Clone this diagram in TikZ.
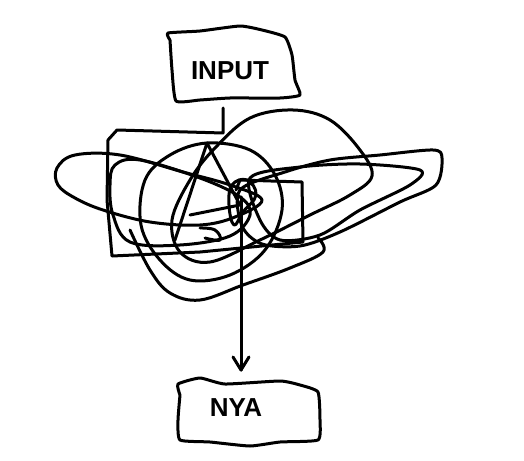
\documentclass[tikz,border=0pt]{standalone}
\usepackage{fontspec}
\setmainfont{Liberation Sans}
\usetikzlibrary{arrows.meta}
\tikzset{
  scrib/.style={line width=1.5pt, line join=round, line cap=round, black},
  label/.style={font=\fontsize{13}{13}\selectfont\bfseries, inner sep=0pt},
}
\begin{document}
\begin{tikzpicture}[x=0.5pt,y=-0.5pt]
\useasboundingbox[fill=white] (0,0) rectangle (524,460);
% INPUT box
\draw[scrib] plot[smooth, tension=0.3] coordinates {(170,40) (168,33) (200,31) (240,26) (262,30) (285,37) (292,55) (295,80) (300,95) (280,98) (230,98) (200,100) (176,101) (172,70) (170,40)};
\node[label] (input) at (230,71) {INPUT};
% line from box into scribble
\coordinate (c0) at (223,108);
\draw[scrib] (c0) -- (223,133) -- (117,130) -- (108,140) -- (107,200) -- (112,256) -- (200,252) -- (303,242) -- (302,182) -- (240,180) -- (236,190);
% left wide loop
\draw[scrib] plot[smooth cycle, tension=0.6] coordinates {(57,168) (75,155) (120,155) (183,172) (230,185) (262,200) (235,217) (200,225) (150,222) (103,210) (75,198) (58,185)};
% inner left loop
\draw[scrib] plot[smooth cycle, tension=0.6] coordinates {(115,165) (140,160) (200,178) (240,197) (250,215) (230,236) (180,245) (130,242) (113,215) (110,185)};
% circle
\draw[scrib] plot[smooth cycle, tension=0.6] coordinates {(207,143) (250,150) (275,175) (282,210) (265,250) (230,275) (190,280) (160,260) (141,225) (145,180) (170,155)};
% big tilted loop
\draw[scrib] plot[smooth cycle, tension=0.6] coordinates {(250,118) (293,110) (330,120) (360,150) (372,176) (350,195) (310,215) (260,240) (210,262) (180,252) (172,220) (190,180) (215,148)};
% far right long loop
\draw[scrib] plot[smooth cycle, tension=0.5] coordinates {(240,190) (285,172) (330,160) (380,155) (433,150) (442,158) (436,185) (400,202) (340,232) (300,246) (262,244) (242,226)};
% second right loop
\draw[scrib] plot[smooth cycle, tension=0.5] coordinates {(250,178) (300,167) (360,164) (420,170) (410,185) (360,210) (320,235) (280,240) (260,220)};
% bottom swoop
\draw[scrib] plot[smooth, tension=0.6] coordinates {(130,230) (150,270) (170,293) (200,300) (243,285) (290,268) (323,252) (318,238)};
% triangle
\draw[scrib] (175,240) -- (207,143) -- (240,205) -- (190,215);
% knot
\draw[scrib] plot[smooth cycle, tension=0.7] coordinates {(232,185) (247,180) (256,195) (243,212) (234,225) (229,205)};
\draw[scrib] plot[smooth, tension=0.7] coordinates {(200,228) (215,230) (220,240) (205,238)};
% NYA box
\draw[scrib] plot[smooth, tension=0.3] coordinates {(180,395) (178,384) (200,378) (225,384) (280,381) (300,385) (318,392) (320,420) (318,440) (280,442) (250,446) (210,442) (180,440) (178,420) (180,395)};
\node[label] (nya) at (236,408) {NYA};
% arrow from knot to NYA
\coordinate (k) at (241,197);
\draw[scrib] (k) -- (241,370);
\draw[scrib] (233,357) -- (241,370) -- (249,357);
\end{tikzpicture}
\end{document}
